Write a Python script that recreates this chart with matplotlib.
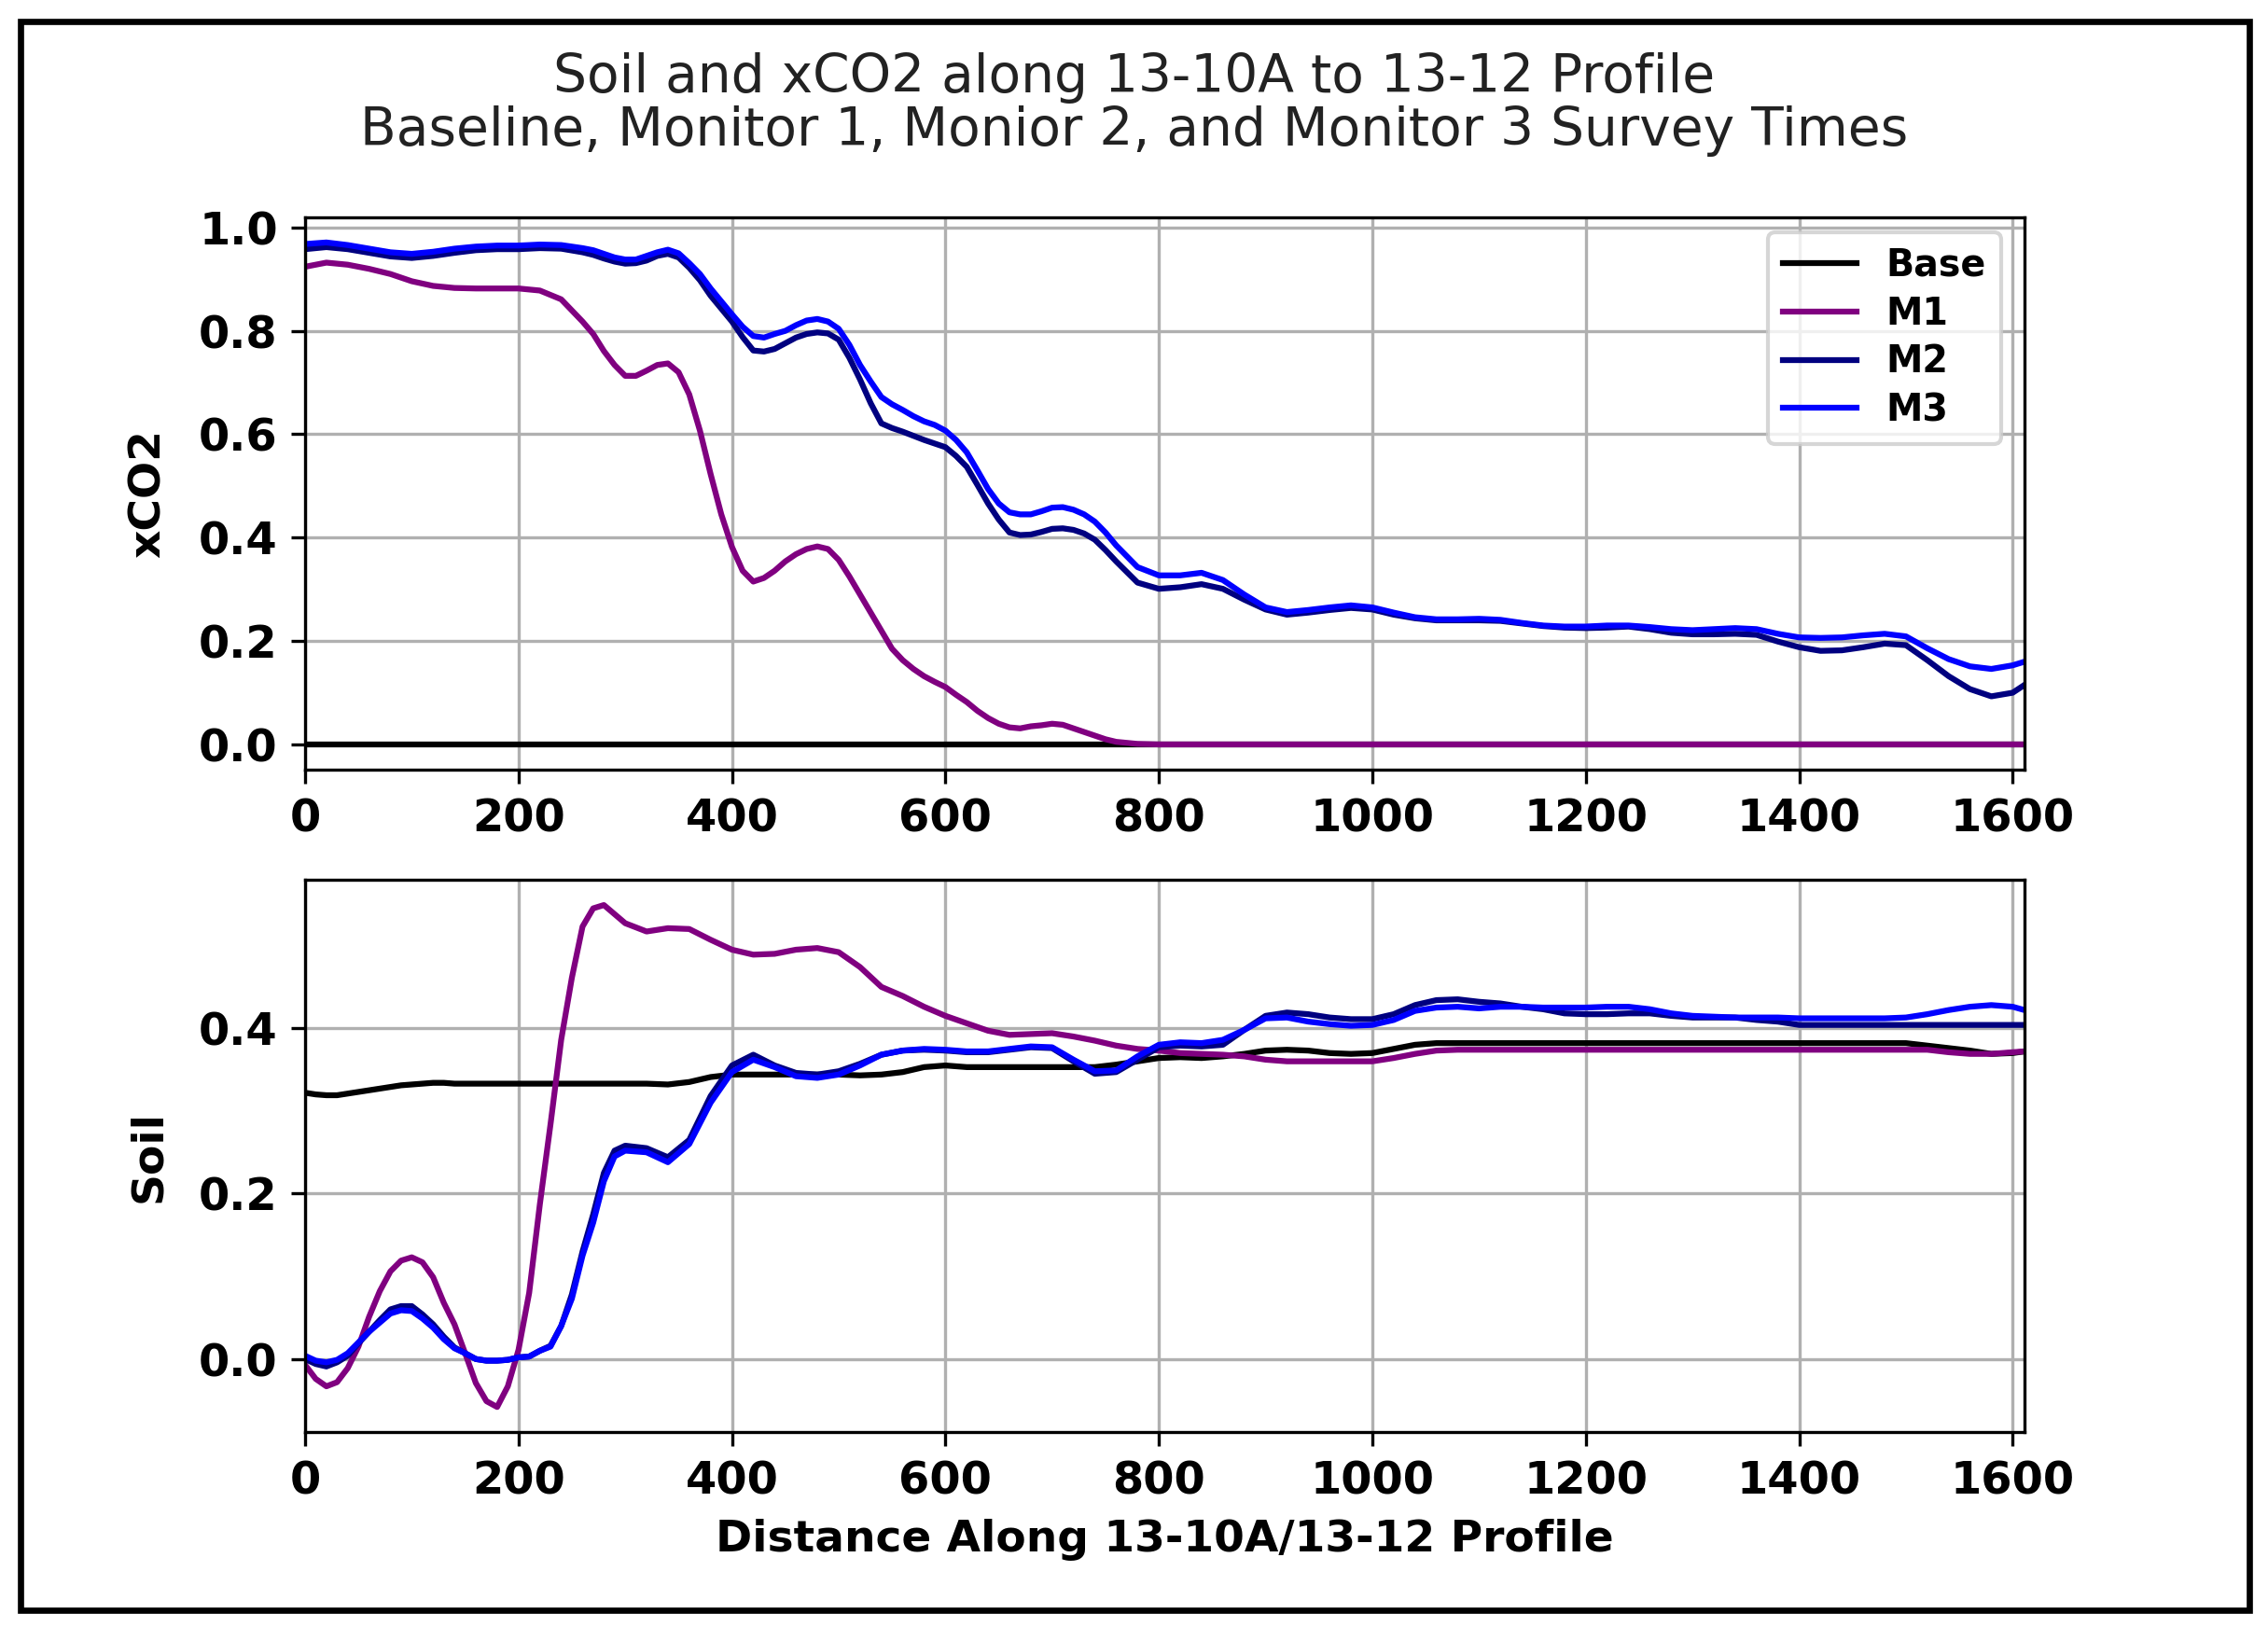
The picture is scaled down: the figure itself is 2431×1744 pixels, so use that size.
import matplotlib
matplotlib.use("Agg")
import matplotlib.pyplot as plt
from matplotlib.patches import Rectangle

# distance along profile for xCO2: every 20 units, every 10 over the steep middle part
distance = list(range(0, 260, 20)) + list(range(260, 760, 10)) + list(range(760, 1601, 20)) + [1611]
# soil is read a bit finer over the first 300 units, where it wiggles most
soil_distance = list(range(0, 300, 10)) + list(range(300, 1601, 20)) + [1611]

# xCO2 along the profile
xco2_base = [0.0] * len(distance)
xco2_m1 = [
    # 0 - 240
    0.924, 0.932, 0.928, 0.920, 0.910, 0.896, 0.887, 0.883, 0.882, 0.882,
    0.882, 0.878, 0.861,
    # 260 - 750
    0.818, 0.794, 0.761, 0.734, 0.713, 0.713, 0.723, 0.734, 0.737, 0.720,
    0.677, 0.607, 0.523, 0.445, 0.382, 0.336, 0.315, 0.322, 0.336, 0.354,
    0.368, 0.378, 0.383, 0.378, 0.357, 0.325, 0.290, 0.255, 0.220, 0.185,
    0.163, 0.146, 0.132, 0.121, 0.111, 0.096, 0.082, 0.065, 0.051, 0.040,
    0.033, 0.031, 0.035, 0.037, 0.040, 0.038, 0.031, 0.024, 0.017, 0.010,
    # 760 - 1600, 1611
    0.005, 0.001, 0.0, 0.0, 0.0, 0.0, 0.0, 0.0, 0.0, 0.0,
    0.0, 0.0, 0.0, 0.0, 0.0, 0.0, 0.0, 0.0, 0.0, 0.0,
    0.0, 0.0, 0.0, 0.0, 0.0, 0.0, 0.0, 0.0, 0.0, 0.0,
    0.0, 0.0, 0.0, 0.0, 0.0, 0.0, 0.0, 0.0, 0.0, 0.0,
    0.0, 0.0, 0.0, 0.0,
]
xco2_m2 = [
    0.958, 0.962, 0.958, 0.951, 0.944, 0.941, 0.945, 0.951, 0.956, 0.958,
    0.958, 0.960, 0.959,
    0.952, 0.947, 0.940, 0.934, 0.930, 0.931, 0.936, 0.945, 0.949, 0.942,
    0.922, 0.898, 0.868, 0.843, 0.818, 0.788, 0.762, 0.760, 0.765, 0.776,
    0.787, 0.794, 0.797, 0.795, 0.783, 0.748, 0.706, 0.660, 0.621, 0.612,
    0.605, 0.597, 0.589, 0.582, 0.575, 0.558, 0.537, 0.502, 0.466, 0.435,
    0.410, 0.405, 0.406, 0.411, 0.417, 0.418, 0.415, 0.408, 0.396, 0.376,
    0.354, 0.313, 0.301, 0.304, 0.310, 0.301, 0.280, 0.261, 0.251, 0.255,
    0.260, 0.264, 0.261, 0.251, 0.244, 0.240, 0.240, 0.240, 0.239, 0.234,
    0.229, 0.226, 0.225, 0.226, 0.228, 0.223, 0.216, 0.213, 0.213, 0.214,
    0.212, 0.199, 0.188, 0.181, 0.182, 0.188, 0.195, 0.192, 0.163, 0.132,
    0.107, 0.093, 0.100, 0.115,
]
xco2_m3 = [
    0.968, 0.971, 0.966, 0.959, 0.952, 0.949, 0.953, 0.959, 0.963, 0.965,
    0.965, 0.967, 0.966,
    0.960, 0.956, 0.949, 0.942, 0.938, 0.938, 0.945, 0.952, 0.957, 0.950,
    0.931, 0.910, 0.882, 0.857, 0.832, 0.808, 0.790, 0.787, 0.794, 0.800,
    0.811, 0.820, 0.823, 0.818, 0.804, 0.773, 0.734, 0.702, 0.672, 0.658,
    0.647, 0.635, 0.625, 0.618, 0.607, 0.589, 0.565, 0.530, 0.494, 0.466,
    0.449, 0.445, 0.445, 0.451, 0.458, 0.459, 0.454, 0.445, 0.431, 0.410,
    0.385, 0.343, 0.327, 0.327, 0.332, 0.318, 0.290, 0.265, 0.256, 0.260,
    0.265, 0.269, 0.265, 0.255, 0.246, 0.242, 0.242, 0.243, 0.241, 0.235,
    0.230, 0.228, 0.228, 0.230, 0.230, 0.227, 0.223, 0.221, 0.223, 0.225,
    0.223, 0.214, 0.207, 0.206, 0.207, 0.211, 0.214, 0.209, 0.186, 0.165,
    0.151, 0.146, 0.153, 0.160,
]

# soil values along the profile (0-290 every 10, then every 20)
soil_base = [
    0.322, 0.320, 0.319, 0.319, 0.321, 0.323, 0.325, 0.327, 0.329, 0.331,
    0.332, 0.333, 0.334, 0.334, 0.333, 0.333, 0.333, 0.333, 0.333, 0.333,
    0.333, 0.333, 0.333, 0.333, 0.333, 0.333, 0.333, 0.333, 0.333, 0.333,
    0.333, 0.333, 0.332, 0.335, 0.341,
    0.344, 0.344, 0.344, 0.344, 0.344, 0.344, 0.343, 0.344, 0.347, 0.353,
    0.355, 0.353, 0.353, 0.353, 0.353, 0.353, 0.353, 0.353, 0.356, 0.360,
    0.364, 0.365, 0.364, 0.366, 0.369, 0.373, 0.374, 0.373, 0.370, 0.369,
    0.370, 0.375, 0.380, 0.382, 0.382, 0.382, 0.382, 0.382, 0.382, 0.382,
    0.382, 0.382, 0.382, 0.382, 0.382, 0.382, 0.382, 0.382, 0.382, 0.382,
    0.382, 0.382, 0.382, 0.382, 0.382, 0.382, 0.379, 0.376, 0.373, 0.369,
    0.370, 0.372,
]
soil_m1 = [
    -0.007, -0.024, -0.033, -0.028, -0.011, 0.015, 0.051, 0.082, 0.106, 0.119,
    0.123, 0.117, 0.099, 0.068, 0.042, 0.007, -0.029, -0.051, -0.058, -0.033,
    0.011, 0.080, 0.187, 0.284, 0.386, 0.461, 0.523, 0.545, 0.549, 0.538,
    0.527, 0.517, 0.521, 0.520, 0.507,
    0.495, 0.489, 0.490, 0.495, 0.497, 0.492, 0.474, 0.450, 0.439, 0.426,
    0.415, 0.406, 0.397, 0.392, 0.393, 0.394, 0.390, 0.385, 0.379, 0.375,
    0.373, 0.370, 0.369, 0.368, 0.366, 0.362, 0.360, 0.360, 0.360, 0.360,
    0.360, 0.364, 0.369, 0.373, 0.374, 0.374, 0.374, 0.374, 0.374, 0.374,
    0.374, 0.374, 0.374, 0.374, 0.374, 0.374, 0.374, 0.374, 0.374, 0.374,
    0.374, 0.374, 0.374, 0.374, 0.374, 0.374, 0.374, 0.371, 0.369, 0.369,
    0.371, 0.372,
]
soil_m2 = [
    0.000, -0.006, -0.009, -0.004, 0.004, 0.019, 0.033, 0.047, 0.060, 0.064,
    0.064, 0.054, 0.042, 0.027, 0.014, 0.007, 0.000, -0.002, -0.002, -0.001,
    0.002, 0.003, 0.010, 0.016, 0.040, 0.078, 0.130, 0.175, 0.225, 0.252,
    0.258, 0.255, 0.244, 0.265, 0.318,
    0.355, 0.368, 0.355, 0.346, 0.344, 0.348, 0.357, 0.368, 0.373, 0.374,
    0.373, 0.371, 0.371, 0.374, 0.377, 0.376, 0.360, 0.345, 0.347, 0.362,
    0.377, 0.379, 0.378, 0.380, 0.398, 0.415, 0.419, 0.417, 0.413, 0.411,
    0.411, 0.417, 0.428, 0.434, 0.435, 0.432, 0.430, 0.426, 0.423, 0.418,
    0.417, 0.417, 0.418, 0.418, 0.415, 0.413, 0.413, 0.413, 0.410, 0.408,
    0.404, 0.404, 0.404, 0.404, 0.404, 0.404, 0.404, 0.404, 0.404, 0.404,
    0.404, 0.404,
]
soil_m3 = [
    0.004, -0.002, -0.004, -0.001, 0.007, 0.020, 0.033, 0.044, 0.055, 0.059,
    0.058, 0.049, 0.038, 0.024, 0.013, 0.007, 0.000, -0.002, -0.002, -0.001,
    0.002, 0.003, 0.010, 0.015, 0.040, 0.073, 0.125, 0.165, 0.215, 0.245,
    0.252, 0.250, 0.238, 0.260, 0.310,
    0.347, 0.362, 0.353, 0.342, 0.340, 0.344, 0.355, 0.368, 0.373, 0.375,
    0.374, 0.372, 0.372, 0.375, 0.378, 0.377, 0.362, 0.348, 0.349, 0.366,
    0.380, 0.383, 0.382, 0.386, 0.398, 0.412, 0.413, 0.408, 0.405, 0.403,
    0.404, 0.410, 0.421, 0.425, 0.426, 0.424, 0.426, 0.426, 0.425, 0.425,
    0.425, 0.426, 0.426, 0.423, 0.418, 0.415, 0.414, 0.413, 0.413, 0.413,
    0.412, 0.412, 0.412, 0.412, 0.412, 0.413, 0.417, 0.422, 0.426, 0.428,
    0.426, 0.422,
]

labels = ["Base", "M1", "M2", "M3"]
colors = ["black", "purple", "navy", "blue"]

fig = plt.figure(figsize=(2431 / 300, 1744 / 300), dpi=300)
fig.subplots_adjust(left=0.1345, right=0.8926, top=0.8664, bottom=0.1198, hspace=0.2)
ax1 = fig.add_subplot(2, 1, 1)
ax2 = fig.add_subplot(2, 1, 2)

for series, lab, col in zip([xco2_base, xco2_m1, xco2_m2, xco2_m3], labels, colors):
    ax1.plot(distance, series, color=col, label=lab, lw=1.5)
for series, lab, col in zip([soil_base, soil_m1, soil_m2, soil_m3], labels, colors):
    ax2.plot(soil_distance, series, color=col, label=lab, lw=1.5)

ax2.set_yticks([0.0, 0.2, 0.4])
for ax in (ax1, ax2):
    ax.set_xlim(distance[0], distance[-1])
    ax.grid(True)
    for lbl in ax.get_xticklabels() + ax.get_yticklabels():
        lbl.set_fontweight("bold")
        lbl.set_fontsize(11.5)

ax1.set_ylabel("xCO2", fontweight="bold", fontsize=11.3, labelpad=7.5)
ax2.set_ylabel("Soil", fontweight="bold", fontsize=11.3, labelpad=7.5)
ax2.set_xlabel("Distance Along 13-10A/13-12 Profile", fontweight="bold", fontsize=11.3)

ax1.legend(loc="upper right", prop={"weight": "bold", "size": 9.5}, labelspacing=0.3,
           borderaxespad=0.4, bbox_to_anchor=(0.995, 1.0))

fig.suptitle(
    "Soil and xCO2 along 13-10A to 13-12 Profile\n"
    "Baseline, Monitor 1, Monior 2, and Monitor 3 Survey Times",
    fontsize=13.6, y=0.9358, va="center", color="#222222", linespacing=1.05,
)

# black frame around the whole picture
fig.patches.append(
    Rectangle((0.009, 0.0103), 0.9827, 0.9765, transform=fig.transFigure,
              fill=False, edgecolor="black", linewidth=1.6)
)

fig.savefig("out.png", dpi=300)
